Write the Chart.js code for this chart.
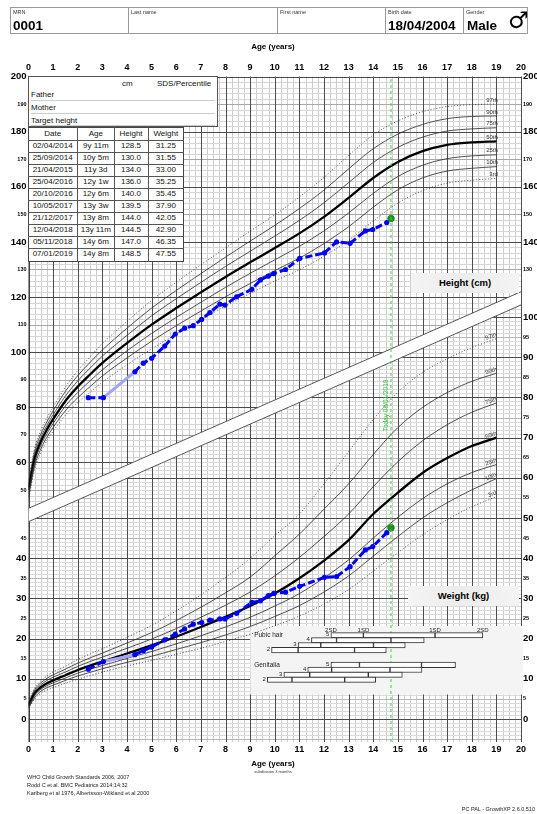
<!DOCTYPE html>
<html><head><meta charset="utf-8">
<script src="https://cdn.jsdelivr.net/npm/chart.js@4.4.1/dist/chart.umd.min.js"></script>
<style>
html,body{margin:0;padding:0;background:#fff;}
body{width:537px;height:814px;position:relative;overflow:hidden;font-family:"Liberation Sans",Arial,sans-serif;color:#000;}
#c{position:absolute;left:0;top:0;width:537px;height:814px;}
.abs{position:absolute;white-space:nowrap;}
.cell{position:absolute;top:7px;height:27px;border:1px solid #999;box-sizing:border-box;}
.lab{position:absolute;left:2px;top:1px;font-size:5.5px;color:#333;}
.val{position:absolute;left:2px;top:10px;font-size:13.5px;font-weight:bold;}
.t8{font-size:8px;color:#111;}
.sep{position:absolute;left:2px;width:184px;height:0;border-top:1.5px solid #ccc;}
.lbox{position:absolute;background:linear-gradient(to right,#f4f4f4,#ececec 50%,#f4f4f4);font-weight:bold;font-size:9.5px;text-align:center;}
.foot{position:absolute;font-size:5.5px;color:#222;white-space:nowrap;}
</style></head><body>
<canvas id="c" width="537" height="814"></canvas>

<div class="cell" style="left:10px;width:119px;"><span class="lab">MRN</span><span class="val">0001</span></div>
<div class="cell" style="left:128px;width:150px;"><span class="lab">Last name</span></div>
<div class="cell" style="left:277px;width:109px;"><span class="lab">First name</span></div>
<div class="cell" style="left:385px;width:79px;"><span class="lab">Birth date</span><span class="val">18/04/2004</span></div>
<div class="cell" style="left:463px;width:65px;"><span class="lab">Gender</span><span class="val" style="left:3px">Male</span><span class="abs" style="left:44px;top:0px;font-size:23px;font-family:'DejaVu Sans';line-height:24px;">♂</span></div>

<div class="abs" style="left:0;width:546px;top:42px;text-align:center;font-size:8px;font-weight:bold;">Age (years)</div>

<div id="par" class="abs t8" style="left:28px;top:76px;width:190px;height:51px;border:1px solid #555;background:#fff;box-sizing:border-box;">
 <div class="abs" style="left:93px;top:2px">cm</div>
 <div class="abs" style="left:128px;top:2px">SDS/Percentile</div>
 <div class="abs" style="left:2px;top:13px">Father</div>
 <div class="sep" style="top:23px"></div>
 <div class="abs" style="left:2px;top:26px">Mother</div>
 <div class="sep" style="top:35.5px"></div>
 <div class="abs" style="left:2px;top:39px">Target height</div>
 <div class="sep" style="top:47.5px"></div>
</div>
<div id="tbl" class="abs t8" style="left:28px;top:126.5px;width:156px;height:135px;background:#fff;border:1px solid #444;box-sizing:border-box;"></div>

<div class="lbox" style="left:411px;top:273px;width:108px;height:20px;line-height:20px;">Height (cm)</div>
<div class="lbox" style="left:408px;top:586px;width:111px;height:20px;line-height:20px;">Weight (kg)</div>

<div class="abs" style="left:0;width:546px;top:759px;text-align:center;font-size:8px;font-weight:bold;">Age (years)</div>
<div class="abs" style="left:0;width:546px;top:769px;text-align:center;font-size:4px;color:#333;">subdivision 3 months</div>
<div class="foot" style="left:27px;top:774px;">WHO Child Growth Standards 2006, 2007</div>
<div class="foot" style="left:27px;top:782px;">Rodd C et al. BMC Pediatrics 2014;14:32</div>
<div class="foot" style="left:27px;top:790px;">Karlberg et al 1976, Albertsson-Wikland et al 2000</div>
<div class="foot" style="right:2px;top:806px;">PC PAL - GrowthXP 2.6.0.510</div>

<script>
// ---------- reference curves ----------
const refAges = [0,0.25,0.5,0.75,1,1.5,2,2.5,3,4,5,6,7,8,9,10,11,12,13,14,15,16,17,18,19];
const pctLabels = ['3rd','10th','25th','50th','75th','90th','97th'];
const height3  = [46.3,57.6,63.6,67.9,71.3,77.2,81.7,85.5,89.1,95.4,101.2,106.6,111.7,116.8,121.3,125.8,129.9,134.8,140.6,147.6,154.1,158.6,161.3,162.4,163.0];
const height10 = [47.5,58.8,64.9,69.2,72.7,78.8,83.5,87.5,91.4,97.9,104.0,109.6,114.9,120.1,124.9,129.6,134.1,139.4,145.5,152.6,158.9,163.2,165.7,166.7,167.3];
const height25 = [48.6,60.1,66.2,70.5,74.1,80.5,85.4,89.6,93.6,100.5,106.8,112.6,118.1,123.5,128.6,133.5,138.4,144.0,150.5,157.6,163.7,167.8,170.2,171.2,171.6];
const height50 = [49.9,61.4,67.6,72.0,75.7,82.3,87.5,91.9,96.1,103.3,110.0,116.0,121.7,127.3,132.6,137.8,143.1,149.1,156.0,163.2,169.0,172.9,175.2,176.1,176.5];
const height75 = [51.2,62.7,69.0,73.5,77.3,84.1,89.6,94.2,98.6,106.1,113.2,119.4,125.3,131.1,136.6,142.1,147.8,154.2,161.5,168.8,174.3,178.0,180.2,181.0,181.4];
const height90 = [52.3,64.0,70.3,74.8,78.7,85.8,91.5,96.3,100.8,108.7,116.0,122.4,128.5,134.5,140.3,146.0,152.1,158.8,166.5,173.8,179.1,182.6,184.7,185.5,185.7];
const height97 = [53.5,65.2,71.6,76.1,80.1,87.4,93.3,98.3,103.1,111.2,118.8,125.4,131.7,137.8,143.9,149.8,156.3,163.4,171.4,178.8,183.9,187.2,189.1,189.8,190.0];

const weight3  = [2.5,5.0,6.4,7.2,7.8,8.9,9.9,10.8,11.7,13.2,14.6,16.1,17.6,19.3,21.1,23.2,25.6,28.6,32.2,36.8,41.4,45.8,49.6,52.8,55.3];
const weight10 = [2.8,5.4,6.9,7.8,8.4,9.6,10.7,11.6,12.5,14.1,15.6,17.3,19.0,20.9,23.0,25.5,28.2,31.6,35.6,40.5,45.4,50.0,53.8,57.0,59.8];
const weight25 = [3.0,5.9,7.4,8.3,9.0,10.2,11.4,12.4,13.3,15.1,16.8,18.7,20.7,22.9,25.3,28.1,31.2,35.1,39.6,45.0,50.2,54.8,58.5,61.3,63.3];
const weight50 = [3.3,6.4,7.9,8.9,9.6,10.9,12.2,13.3,14.3,16.3,18.3,20.5,22.9,25.4,28.1,31.2,35.0,39.4,44.5,51.0,56.3,61.2,64.9,67.9,70.0];
const weight75 = [3.7,6.9,8.5,9.6,10.4,11.7,13.1,14.3,15.4,17.6,19.9,22.5,25.3,28.3,31.6,35.6,40.2,45.4,51.0,57.8,64.0,69.2,73.2,76.3,78.6];
const weight90 = [3.9,7.3,9.0,10.1,11.0,12.4,13.9,15.2,16.4,18.9,21.5,24.5,27.8,31.4,35.3,40.6,46.0,52.2,58.5,65.8,72.5,77.5,81.2,84.0,86.0];
const weight97 = [4.2,7.7,9.5,10.7,11.7,13.1,14.8,16.2,17.5,20.3,23.3,26.9,30.9,35.2,40.0,45.6,51.0,58.5,66.5,74.5,81.3,86.2,89.6,92.4,94.6];

// ---------- patient ----------
const earlyAges    = [2.43,3.04,4.32,4.66,5.0,5.53,5.96,6.34,6.69,7.03,7.37,7.77,7.98,8.45,9.07,9.42,9.74];
const earlyHeights = [83.5,83.5,92.9,96.0,97.8,102.2,106.6,108.7,109.6,111.9,114.4,117.4,117.1,120.1,122.8,126.2,127.6];
const earlyWeights = [12.4,14.3,16.0,17.0,17.9,19.7,21.1,22.4,23.6,24.0,24.6,24.9,24.9,26.3,29.0,29.4,30.7];

const tableDates   = ['02/04/2014','25/09/2014','21/04/2015','25/04/2016','20/10/2016','10/05/2017','21/12/2017','12/04/2018','05/11/2018','07/01/2019'];
const tableAgeText = ['9y 11m','10y 5m','11y 3d','12y 1w','12y 6m','13y 3w','13y 8m','13y 11m','14y 6m','14y 8m'];
const tableAgeYears= [9.96,10.44,11.01,12.02,12.51,13.06,13.68,13.98,14.55,14.72];
const tableHeights = ['128.5','130.0','134.0','136.0','140.0','139.5','144.0','144.5','147.0','148.5'];
const tableWeights = ['31.25','31.55','33.00','35.25','35.45','37.90','42.05','42.90','46.35','47.55'];
const todayAge = 14.72;
const todayText = 'Today 08/01/2019';

// separator band (kg units on the weight scale)
const bandAges = [0,20];
const bandTopKg = [52.4,106.3];
const bandBottomKg = [49.1,103.0];

// puberty
const pubertyStages = ['5','4','3','2'];
const pubicHair = [[12.28,13.60,16.51,18.45],[11.49,12.51,14.72,16.07],[10.95,11.87,14.01,15.30],[9.87,10.95,13.24,14.53]];
const genitalia = [[12.28,13.44,15.96,17.34],[11.34,12.31,14.68,15.98],[10.37,11.42,13.80,15.18],[9.70,10.70,12.84,14.10]];
const pubicRows = [12,11,10,9];
const genitaliaRows = [6,5,4,3];
const sdLabels = ['2SD','1SD','1SD','2SD'];
const pubertyPanel = {ageFrom:9, ageTo:20, top:13.9};

// ticks
const ageTicks = [0,1,2,3,4,5,6,7,8,9,10,11,12,13,14,15,16,17,18,19,20];
const heightTicksLeft = [50,60,70,80,90,100,110,120,130,140,150,160,170,180,190,200];
const heightTicksRight = [130,140,150,160,170,180,190,200];
const weightTicksLeft = [0,5,10,15,20,25,30,35,40,45];
const weightTicksRight = [0,5,10,15,20,25,30,35,40,45,50,55,60,65,70,75,80,85,90,95,100];

// ---------- build table ----------
(function(){
  const tbl = document.getElementById('tbl');
  const colX = [0,49.3,86.3,119.7,156];
  const heads = ['Date','Age','Height','Weight'];
  const cols = [tableDates, tableAgeText, tableHeights, tableWeights];
  const headH = 13, rowH = 12.1;
  function cell(txt, ci, top, h){
    const d = document.createElement('div');
    d.className='abs';
    d.style.left = (colX[ci]-1)+'px'; d.style.width=(colX[ci+1]-colX[ci])+'px';
    d.style.top = (top-1)+'px'; d.style.height=h+'px'; d.style.lineHeight=h+'px';
    d.style.textAlign='center'; d.textContent = txt;
    tbl.appendChild(d);
  }
  heads.forEach((t,i)=>cell(t,i,0,headH));
  for(let r=0;r<tableDates.length;r++){
    const top = headH + r*rowH;
    cols.forEach((c,i)=>cell(c[r],i,top,rowH));
    const ln = document.createElement('div'); ln.className='abs';
    ln.style.left='-1px'; ln.style.width='156px'; ln.style.top=(top-1)+'px'; ln.style.borderTop=(r%2?'1px':'1.5px')+' solid #555';
    tbl.appendChild(ln);
  }
  for(let i=1;i<4;i++){ const v=document.createElement('div'); v.className='abs';
    v.style.left=(colX[i]-1)+'px'; v.style.top='-1px'; v.style.height='135px'; v.style.borderLeft='1px solid #555'; tbl.appendChild(v); }
})();

// ---------- chart ----------
const FONT = '"Liberation Sans", Arial, sans-serif';
Chart.defaults.font.family = FONT;
const H_MIN=-41.4, H_MAX=200, W_MIN=-5.72, W_MAX=159.83, P_MAX=115.74;

const fixedTicks = arr => s => { s.ticks = arr.map(v=>({value:v})); };
const isBig = (v, mod) => v % mod === 0;
const bigSmall = mod => ctx => ({family:FONT, weight:'bold', size: (ctx.tick && isBig(ctx.tick.value, mod)) ? 9.5 : 5.5});
const noGrid = {display:false, drawTicks:false, tickLength:0};
const noBorder = {display:false};

const datasets = [];
const hCurves = [height3,height10,height25,height50,height75,height90,height97];
const wCurves = [weight3,weight10,weight25,weight50,weight75,weight90,weight97];
function curveStyle(i){
  return {
    borderColor: i===3 ? '#000' : '#333',
    borderWidth: i===3 ? 2.3 : 0.85,
    borderDash: (i===0||i===6) ? [1,2] : [],
  };
}
hCurves.forEach((arr,i)=>datasets.push(Object.assign({
  type:'line', label:'H '+pctLabels[i], data: refAges.map((a,j)=>({x:a,y:arr[j]})),
  xAxisID:'x', yAxisID:'yH', pointRadius:0, fill:false, cubicInterpolationMode:'monotone', order:50
}, curveStyle(i))));
wCurves.forEach((arr,i)=>datasets.push(Object.assign({
  type:'line', label:'W '+pctLabels[i], data: refAges.map((a,j)=>({x:a,y:arr[j]})),
  xAxisID:'x', yAxisID:'yW', pointRadius:0, fill:false, cubicInterpolationMode:'monotone', order:50
}, curveStyle(i))));

// band
datasets.push({type:'line', label:'bandTop', data: bandAges.map((a,j)=>({x:a,y:bandTopKg[j]})), xAxisID:'x', yAxisID:'yW',
  borderColor:'#444', borderWidth:0.9, pointRadius:0, fill:false, order:90});
datasets.push({type:'line', label:'bandBottom', data: bandAges.map((a,j)=>({x:a,y:bandBottomKg[j]})), xAxisID:'x', yAxisID:'yW',
  borderColor:'#444', borderWidth:0.9, pointRadius:0, fill:'-1', backgroundColor:'#ffffff', order:90});

// patient
const nBlue = tableAgeYears.length-1;
const patAges = earlyAges.concat(tableAgeYears.slice(0,nBlue));
const patH = earlyHeights.concat(tableHeights.slice(0,nBlue).map(Number));
const patW = earlyWeights.concat(tableWeights.slice(0,nBlue).map(Number));
const gapSeg = c => (c.p1.parsed.x - c.p0.parsed.x) > 1.2;
function patientSet(label, yID, vals){
  return {type:'line', label, data: patAges.map((a,j)=>({x:a,y:vals[j]})), xAxisID:'x', yAxisID:yID,
    borderColor:'#0000ff', borderWidth:3, borderDash:[7,3], pointRadius:2.6, pointBorderWidth:0,
    pointBackgroundColor:'#0000ff', fill:false, tension:0, order:5,
    segment:{ borderColor: c => gapSeg(c) ? '#a4a4ff' : undefined, borderDash: c => gapSeg(c) ? [] : undefined }};
}
datasets.push(patientSet('height','yH',patH));
datasets.push(patientSet('weight','yW',patW));
datasets.push({type:'line', label:'lastH', data:[{x:tableAgeYears[nBlue], y:Number(tableHeights[nBlue])}], xAxisID:'x', yAxisID:'yH',
  showLine:false, pointRadius:3.3, pointBackgroundColor:'#159a15', pointBorderColor:'#0d7d0d', pointBorderWidth:0.8, order:4});
datasets.push({type:'line', label:'lastW', data:[{x:tableAgeYears[nBlue], y:Number(tableWeights[nBlue])}], xAxisID:'x', yAxisID:'yW',
  showLine:false, pointRadius:3.3, pointBackgroundColor:'#159a15', pointBorderColor:'#0d7d0d', pointBorderWidth:0.8, order:4});

// today line
datasets.push({type:'line', label:'today', data:[{x:todayAge,y:W_MIN},{x:todayAge,y:W_MAX}], xAxisID:'x', yAxisID:'yW',
  borderColor:'#3fcf3f', borderWidth:1, borderDash:[3,3], pointRadius:0, fill:false, order:3});

// puberty bars
function segs(rows, rowVals){
  const out=[];
  rows.forEach((r,i)=>{ for(let k=0;k<3;k++) out.push({x:[r[k],r[k+1]], y:rowVals[i]}); });
  return out;
}
const barStyle = {type:'bar', indexAxis:'y', xAxisID:'x', yAxisID:'yP', barThickness:5.4, grouped:false,
  borderWidth:1, borderColor:'#333', backgroundColor:'#fdfdfd', borderSkipped:false, order:2};
datasets.push(Object.assign({label:'Pubic hair', data: segs(pubicHair,pubicRows)}, barStyle));
datasets.push(Object.assign({label:'Genitalia', data: segs(genitalia,genitaliaRows)}, barStyle));

// ---------- plugins ----------
const gridPlugin = {
  id:'gridBg',
  beforeDatasetsDraw(chart){
    const {ctx, chartArea:a, scales:s} = chart;
    const X=s.x, YH=s.yH, YW=s.yW, YP=s.yP;
    const x0=X.getPixelForValue(bandAges[0]), x1=X.getPixelForValue(bandAges[1]);
    const ut0=YW.getPixelForValue(bandTopKg[0]), ut1=YW.getPixelForValue(bandTopKg[1]);
    const lb0=YW.getPixelForValue(bandBottomKg[0]), lb1=YW.getPixelForValue(bandBottomKg[1]);
    ctx.save();
    ctx.fillStyle='#fff'; ctx.fillRect(a.left,a.top,a.right-a.left,a.bottom-a.top);
    const hline=(y,col,w)=>{ctx.strokeStyle=col; ctx.lineWidth=w; ctx.beginPath(); ctx.moveTo(a.left,y); ctx.lineTo(a.right,y); ctx.stroke();};
    const vline=(x,col,w)=>{ctx.strokeStyle=col; ctx.lineWidth=w; ctx.beginPath(); ctx.moveTo(x,a.top); ctx.lineTo(x,a.bottom); ctx.stroke();};
    for(let q=0;q<=80;q++){ if(q%4) vline(Math.round(X.getPixelForValue(q/4))+0.5,'#cdcdcd',1); }
    ctx.save(); ctx.beginPath(); ctx.moveTo(a.left,a.top); ctx.lineTo(a.right,a.top); ctx.lineTo(x1,ut1); ctx.lineTo(x0,ut0); ctx.closePath(); ctx.clip();
    for(let h=-40;h<=200;h+=2){ if(h%10) hline(Math.round(YH.getPixelForValue(h))+0.5,'#d6d6d6',1); }
    for(let h=-40;h<=200;h+=10){ if(h%20) hline(Math.round(YH.getPixelForValue(h))+0.5,'#a8a8a8',1); }
    for(let h=-40;h<=200;h+=20){ hline(Math.round(YH.getPixelForValue(h))+0.5,'#4a4a4a',1); }
    ctx.restore();
    ctx.save(); ctx.beginPath(); ctx.moveTo(x0,lb0); ctx.lineTo(x1,lb1); ctx.lineTo(a.right,a.bottom); ctx.lineTo(a.left,a.bottom); ctx.closePath(); ctx.clip();
    for(let w=-5;w<=160;w+=1){ if(w%5) hline(Math.round(YW.getPixelForValue(w))+0.5,'#dadada',1); }
    for(let w=-5;w<=160;w+=5){ if(w%10) hline(Math.round(YW.getPixelForValue(w))+0.5,'#b8b8b8',1); }
    for(let w=0;w<=160;w+=10){ hline(Math.round(YW.getPixelForValue(w))+0.5,'#4a4a4a',1); }
    ctx.restore();
    for(let y=0;y<=20;y++) vline(Math.round(X.getPixelForValue(y))+0.5,'#4d4d4d',1);
    const px0=X.getPixelForValue(pubertyPanel.ageFrom), px1=X.getPixelForValue(pubertyPanel.ageTo);
    const py0=YP.getPixelForValue(pubertyPanel.top), py1=YP.getPixelForValue(0);
    ctx.fillStyle='#f4f4f4'; ctx.fillRect(px0,py0,px1-px0+2,py1-py0);
    ctx.strokeStyle='#333'; ctx.lineWidth=1; ctx.beginPath(); ctx.moveTo(a.left+0.5,a.top); ctx.lineTo(a.left+0.5,a.bottom); ctx.stroke();
    ctx.restore();
  },
  afterDatasetsDraw(chart){
    const {ctx, chartArea:a, scales:s} = chart;
    const X=s.x, YH=s.yH, YW=s.yW, YP=s.yP;
    ctx.save();
    ctx.fillStyle='#333'; ctx.font='6px '+FONT;
    const n=refAges.length-1;
    hCurves.forEach((arr,i)=>{
      ctx.textAlign='right'; ctx.textBaseline='bottom';
      ctx.fillText(pctLabels[i], X.getPixelForValue(refAges[n])+1.5, YH.getPixelForValue(arr[n])-1);
    });
    wCurves.forEach((arr,i)=>{
      const px=X.getPixelForValue(refAges[n]), py=YW.getPixelForValue(arr[n]);
      const qx=X.getPixelForValue(refAges[n-1]), qy=YW.getPixelForValue(arr[n-1]);
      ctx.save(); ctx.translate(px,py); ctx.rotate(Math.atan2(py-qy,px-qx));
      ctx.textAlign='right'; ctx.textBaseline='bottom'; ctx.fillText(pctLabels[i],1.5,-1); ctx.restore();
    });
    ctx.fillStyle='#222'; ctx.font='6.5px '+FONT; ctx.textAlign='left'; ctx.textBaseline='middle';
    ctx.fillText('Pubic hair', X.getPixelForValue(pubertyPanel.ageFrom)+4, YP.getPixelForValue(pubicRows[0]));
    ctx.fillText('Genitalia', X.getPixelForValue(pubertyPanel.ageFrom)+4, YP.getPixelForValue(genitaliaRows[0]));
    ctx.font='6px '+FONT; ctx.textAlign='right';
    pubicHair.forEach((r,i)=>ctx.fillText(pubertyStages[i], X.getPixelForValue(r[0])-1.5, YP.getPixelForValue(pubicRows[i])-0.5));
    genitalia.forEach((r,i)=>ctx.fillText(pubertyStages[i], X.getPixelForValue(r[0])-1.5, YP.getPixelForValue(genitaliaRows[i])-0.5));
    ctx.textAlign='center';
    pubicHair[0].forEach((v,i)=>ctx.fillText(sdLabels[i], X.getPixelForValue(v), YP.getPixelForValue(pubicRows[0]+1)));
    ctx.save(); ctx.fillStyle='#2ec42e'; ctx.font='6.5px '+FONT;
    ctx.translate(X.getPixelForValue(todayAge)-1.5, YW.getPixelForValue(78)); ctx.rotate(-Math.PI/2);
    ctx.textAlign='center'; ctx.textBaseline='bottom'; ctx.fillText(todayText,0,0); ctx.restore();
    ctx.restore();
  },
  afterDraw(chart){
    // secondary axis labels sharing the left/right edges (weight on left, height on right)
    const {ctx, chartArea:a, scales:s} = chart;
    ctx.save(); ctx.fillStyle='#000'; ctx.textBaseline='middle';
    const f = big => 'bold '+(big?9.5:5.5)+'px '+FONT;
    ctx.textAlign='right';
    weightTicksLeft.forEach(v=>{ ctx.font=f(isBig(v,10)); ctx.fillText(String(v), a.left-2, s.yW.getPixelForValue(v)); });
    ctx.textAlign='left';
    heightTicksRight.forEach(v=>{ ctx.font=f(isBig(v,20)); ctx.fillText(String(v), a.right+2, s.yH.getPixelForValue(v)); });
    ctx.restore();
  }
};

const xTickFont = {family:FONT, weight:'bold', size:9};
new Chart(document.getElementById('c'), {
  type:'line',
  data:{datasets},
  options:{
    responsive:false, animation:false, devicePixelRatio:1, events:[],
    layout:{padding:0},
    plugins:{legend:{display:false}, tooltip:{enabled:false}},
    scales:{
      x:{type:'linear', position:'bottom', min:0, max:20, afterBuildTicks:fixedTicks(ageTicks), grid:noGrid, border:noBorder,
         ticks:{font:xTickFont, color:'#000', padding:2, maxRotation:0, autoSkip:false}, afterFit:s=>{s.height=72;}},
      x2:{type:'linear', position:'top', min:0, max:20, afterBuildTicks:fixedTicks(ageTicks), grid:noGrid, border:noBorder,
         ticks:{font:xTickFont, color:'#000', padding:4, maxRotation:0, autoSkip:false}, afterFit:s=>{s.height=76.5;}},
      yH:{type:'linear', position:'left', min:H_MIN, max:H_MAX, afterBuildTicks:fixedTicks(heightTicksLeft), grid:noGrid, border:noBorder,
         ticks:{font:bigSmall(20), color:'#000', padding:2, autoSkip:false}, afterFit:s=>{s.width=28.5;}},
      yW:{type:'linear', position:'right', min:W_MIN, max:W_MAX, afterBuildTicks:fixedTicks(weightTicksRight), grid:noGrid, border:noBorder,
         ticks:{font:bigSmall(10), color:'#000', padding:2, autoSkip:false}, afterFit:s=>{s.width=16;}},
      yP:{type:'linear', display:false, min:0, max:P_MAX}
    }
  },
  plugins:[gridPlugin]
});
</script>
</body></html>
